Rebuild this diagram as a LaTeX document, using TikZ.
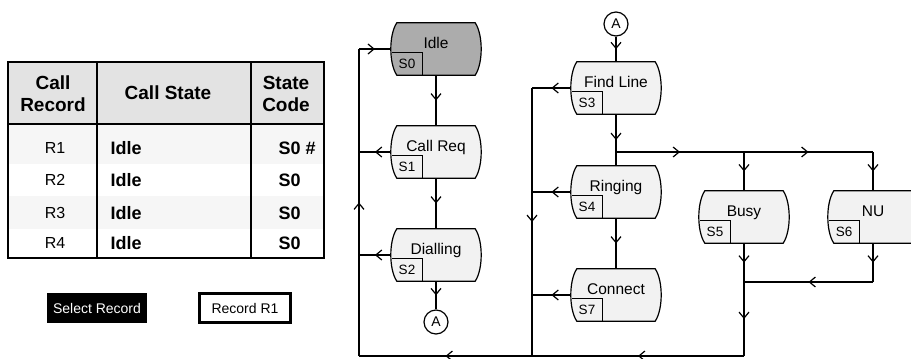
\documentclass[tikz,border=0pt]{standalone}
\usepackage{fontspec}
\setmainfont{Liberation Sans}
\usetikzlibrary{positioning, arrows.meta, backgrounds, decorations.markings}

\begin{document}
\begin{tikzpicture}[x=1pt, y=-1pt,
    stbox/.style={rectangle, minimum width=90pt, minimum height=52pt, inner sep=0pt,
                  font=\fontsize{15.5}{17}\selectfont, text height=11pt, text depth=13pt},
    stline/.style={draw, line width=1.2pt},
    codebox/.style={rectangle, minimum width=30pt, minimum height=22pt, inner sep=0pt,
                    font=\fontsize{13.5}{15}\selectfont},
    conn/.style={circle, draw, line width=1.2pt, fill=white, minimum size=24pt, inner sep=0pt,
                 font=\fontsize{14}{15}\selectfont},
    wire/.style={line width=1.2pt},
    flow/.style={line width=1.2pt, postaction={decorate},
                 decoration={markings, mark=at position 0.5 with {\arrow{Straight Barb[length=6pt, width=10pt, line width=1.2pt]}}}},
    hdr/.style={font=\fontsize{19}{22}\selectfont\bfseries, align=center},
    cell/.style={font=\fontsize{16}{18}\selectfont},
    bcell/.style={font=\fontsize{18}{20}\selectfont\bfseries, anchor=west},
]
\clip (0,0) rectangle (911,359);

% Table of call records
\fill[gray!22] (8,62) rectangle (324,124);
\fill[gray!7] (8,124) rectangle (324,164);
\fill[gray!7] (8,196) rectangle (324,229);
\draw[line width=1.4pt] (8,124) -- (324,124);
\draw[line width=1.4pt] (97,62) -- (97,258);
\draw[line width=1.4pt] (251,62) -- (251,258);
\draw[line width=2.8pt] (8,62) rectangle (324,258);

\node[hdr] (hrec)   at (53,94)  {Call\\Record};
\node[hdr] (hstate) at (168,93) {Call State};
\node[hdr] (hcode)  at (286,94) {State\\Code};

\node[cell]  (r1)  at (55,148) {R1};
\node[bcell] (s1)  at (107,148) {Idle};
\node[bcell] (c1)  at (275,148) {S0 \#};
\node[cell]  (r2)  at (55,180) {R2};
\node[bcell] (s2)  at (107,180) {Idle};
\node[bcell] (c2)  at (275,180) {S0};
\node[cell]  (r3)  at (55,213) {R3};
\node[bcell] (s3)  at (107,213) {Idle};
\node[bcell] (c3)  at (275,213) {S0};
\node[cell]  (r4)  at (55,243) {R4};
\node[bcell] (s4)  at (107,243) {Idle};
\node[bcell] (c4)  at (275,243) {S0};

% Buttons
\node[fill=black, text=white, minimum width=100pt, minimum height=30pt,
      font=\fontsize{14}{16}\selectfont] (selbtn) at (97,308) {Select Record};
\node[draw, line width=2.5pt, fill=white, minimum width=91pt, minimum height=29pt,
      font=\fontsize{14}{16}\selectfont] (recbtn) at (245,308) {Record R1};

% States, left column
\node[stbox] (idle)    at (436,49)  {Idle};
\node[stbox] (callreq) at (436,152) {Call Req};
\node[stbox] (dial)    at (436,255) {Dialling};
\node[conn]  (conA)    at (436,322) {A};

% States, right column
\node[conn]  (conB)     at (616,24)  {A};
\node[stbox] (findline) at (616,88)  {Find Line};
\node[stbox] (ringing)  at (616,192) {Ringing};
\node[stbox] (connect)  at (616,295) {Connect};
\node[stbox] (busy)     at (744,217) {Busy};
\node[stbox] (nu)       at (873,217) {NU};

% State codes
\node[codebox, anchor=south west] (idlec)  at ([xshift=1pt]idle.south west) {S0};
\node[codebox, anchor=south west] (reqc)   at ([xshift=1pt]callreq.south west) {S1};
\node[codebox, anchor=south west] (dialc)  at ([xshift=1pt]dial.south west) {S2};
\node[codebox, anchor=south west] (findc)  at ([xshift=1pt]findline.south west) {S3};
\node[codebox, anchor=south west] (ringc)  at ([xshift=1pt]ringing.south west) {S4};
\node[codebox, anchor=south west] (busyc)  at ([xshift=1pt]busy.south west) {S5};
\node[codebox, anchor=south west] (nuc)    at ([xshift=1pt]nu.south west) {S6};
\node[codebox, anchor=south west] (connc)  at ([xshift=1pt]connect.south west) {S7};

% State outlines behind the labels
\begin{scope}[on background layer]
\foreach \s/\f in {idle/gray!65, callreq/gray!10, dial/gray!10, findline/gray!10,
                   ringing/gray!10, connect/gray!10, busy/gray!10, nu/gray!10}
    \path[stline, fill=\f] ([xshift=6pt]\s.north west) -- ([xshift=-6pt]\s.north east)
        .. controls ([xshift=2pt, yshift=-12pt]\s.north east) and ([xshift=2pt, yshift=12pt]\s.south east)
        .. ([xshift=-6pt]\s.south east) -- ([xshift=6pt]\s.south west)
        .. controls ([xshift=-2pt, yshift=12pt]\s.south west) and ([xshift=-2pt, yshift=-12pt]\s.north west)
        .. cycle;
\foreach \c in {idlec, reqc, dialc, findc, ringc, busyc, nuc, connc}
    \draw[wire] (\c.north west) -| (\c.south east);
\end{scope}

% Rail points
\coordinate (ltop)    at (359,49);
\coordinate (lbot)    at (359,356);
\coordinate (rtop)    at (532,88);
\coordinate (rbot)    at (532,356);
\coordinate (split)   at (616,152);
\coordinate (busytop) at (744,152);
\coordinate (nutop)   at (873,152);
\coordinate (bmerge)  at (744,282);
\coordinate (nuturn)  at (873,282);
\coordinate (bcorner) at (744,356);

% Left column flow
\draw[flow] (idle) -- (callreq);
\draw[flow] (callreq) -- (dial);
\draw[flow] (dial) -- (conA);
\draw[flow] (callreq.west) -- (callreq.west -| ltop);
\draw[flow] (dial.west) -- (dial.west -| ltop);
\draw[flow] (lbot) -- (ltop);
\draw[flow] (ltop) -- (idle.west);

% Right column flow
\draw[flow] (conB) -- (findline);
\draw[flow] (findline) -- (ringing);
\draw[flow] (ringing) -- (connect);
\draw[flow] (findline.west) -- (rtop);
\draw[flow] (ringing.west) -- (ringing.west -| rtop);
\draw[flow] (connect.west) -- (connect.west -| rtop);
\draw[flow] (rtop) -- (rbot);

% Busy / NU branch
\draw[flow] (split) -- (busytop);
\draw[flow] (busytop) -- (nutop);
\draw[flow] (busytop) -- (busy);
\draw[flow] (nutop) -- (nu);
\draw[flow] (busy) -- (bmerge);
\draw[flow] (nu) -- (nuturn);
\draw[flow] (nuturn) -- (bmerge);
\draw[flow] (bmerge) -- (bcorner);

% Return line
\draw[flow] (bcorner) -- (rbot);
\draw[flow] (rbot) -- (lbot);

\end{tikzpicture}
\end{document}
